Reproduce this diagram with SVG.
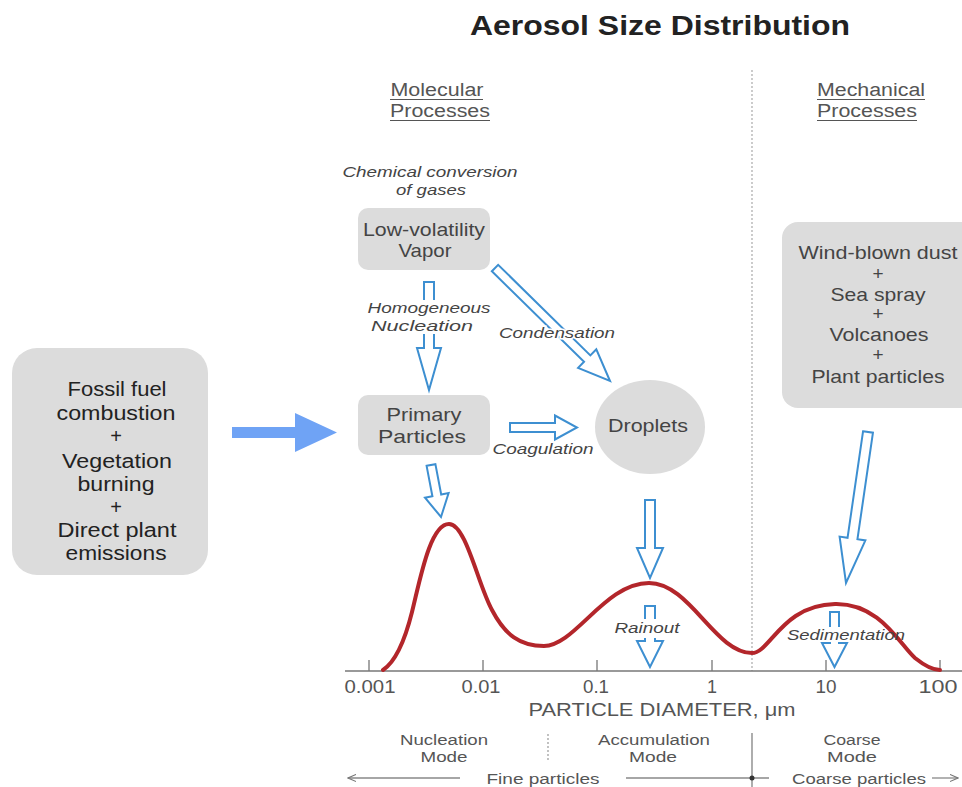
<svg xmlns="http://www.w3.org/2000/svg" width="962" height="787" viewBox="0 0 962 787">
<style>
text{font-family:"Liberation Sans",Arial,sans-serif;fill:#444;text-anchor:middle}
.title{font-size:27px;font-weight:bold;fill:#222}
.hd{font-size:18px;fill:#555}
.box{fill:#dcdcdc}
.bt{font-size:19px;fill:#444}
.lt{font-size:20px;fill:#222}
.it{font-size:15px;font-style:italic;fill:#444}
.ax{font-size:18px;fill:#555}
.md{font-size:15.5px;fill:#555}
.ha{fill:none;stroke:#3d8fd1;stroke-width:2;stroke-linejoin:miter}
.ul{stroke:#555;stroke-width:1.2}
.gl{stroke:#888;stroke-width:1.3;fill:none}
</style>
<defs>
<marker id="ah" viewBox="0 0 10 10" refX="9" refY="5" markerWidth="9" markerHeight="9" orient="auto-start-reverse" markerUnits="userSpaceOnUse"><path d="M0,1 L9,5 L0,9" fill="none" stroke="#777" stroke-width="1.2"/></marker>
</defs>
<rect width="962" height="787" fill="#fff"/>
<text class="title" x="660" y="35" textLength="380" lengthAdjust="spacingAndGlyphs">Aerosol Size Distribution</text>

<g id="headings">
<text class="hd" x="437" y="96" textLength="93" lengthAdjust="spacingAndGlyphs">Molecular</text>
<text class="hd" x="440" y="117" textLength="100" lengthAdjust="spacingAndGlyphs">Processes</text>
<line class="ul" x1="390" y1="99.5" x2="483" y2="99.5"/>
<line class="ul" x1="390" y1="120.5" x2="490" y2="120.5"/>
<text class="hd" x="871" y="96" textLength="108" lengthAdjust="spacingAndGlyphs">Mechanical</text>
<text class="hd" x="867" y="117" textLength="100" lengthAdjust="spacingAndGlyphs">Processes</text>
<line class="ul" x1="817" y1="99.5" x2="925" y2="99.5"/>
<line class="ul" x1="817" y1="120.5" x2="917" y2="120.5"/>
</g>

<line x1="752" y1="70" x2="752" y2="671" stroke="#aaa" stroke-width="1.2" stroke-dasharray="2,2"/>

<g id="chem-label">
<text class="it" x="430" y="177" textLength="175" lengthAdjust="spacingAndGlyphs">Chemical conversion</text>
<text class="it" x="431" y="195" textLength="70" lengthAdjust="spacingAndGlyphs">of gases</text>
</g>

<g id="sources">
<rect class="box" x="12" y="348" width="196" height="227" rx="25"/>
<text class="lt" x="117" y="396" textLength="99" lengthAdjust="spacingAndGlyphs">Fossil fuel</text>
<text class="lt" x="116" y="420" textLength="119" lengthAdjust="spacingAndGlyphs">combustion</text>
<text class="lt" x="116" y="443">+</text>
<text class="lt" x="117" y="468" textLength="110" lengthAdjust="spacingAndGlyphs">Vegetation</text>
<text class="lt" x="116" y="491" textLength="77" lengthAdjust="spacingAndGlyphs">burning</text>
<text class="lt" x="116" y="514">+</text>
<text class="lt" x="117" y="537" textLength="119" lengthAdjust="spacingAndGlyphs">Direct plant</text>
<text class="lt" x="116" y="560" textLength="101" lengthAdjust="spacingAndGlyphs">emissions</text>
</g>

<g id="vapor">
<rect class="box" x="358" y="208" width="132" height="62" rx="10"/>
<text class="bt" x="424" y="236" textLength="122" lengthAdjust="spacingAndGlyphs">Low-volatility</text>
<text class="bt" x="425" y="257" textLength="53" lengthAdjust="spacingAndGlyphs">Vapor</text>
</g>

<g id="primary">
<rect class="box" x="358" y="395" width="132" height="60" rx="10"/>
<text class="bt" x="424" y="421" textLength="75" lengthAdjust="spacingAndGlyphs">Primary</text>
<text class="bt" x="422" y="443" textLength="88" lengthAdjust="spacingAndGlyphs">Particles</text>
</g>

<g id="droplets">
<ellipse cx="650" cy="427" rx="55" ry="47" fill="#dcdcdc"/>
<text class="bt" x="648" y="432" textLength="80" lengthAdjust="spacingAndGlyphs">Droplets</text>
</g>

<g id="mechanical">
<rect class="box" x="782" y="222" width="200" height="186" rx="16"/>
<text class="bt" x="878" y="259" textLength="159" lengthAdjust="spacingAndGlyphs">Wind-blown dust</text>
<text class="bt" x="878" y="280">+</text>
<text class="bt" x="878" y="301" textLength="95" lengthAdjust="spacingAndGlyphs">Sea spray</text>
<text class="bt" x="878" y="320">+</text>
<text class="bt" x="879" y="341" textLength="99" lengthAdjust="spacingAndGlyphs">Volcanoes</text>
<text class="bt" x="878" y="361">+</text>
<text class="bt" x="878" y="383" textLength="133" lengthAdjust="spacingAndGlyphs">Plant particles</text>
</g>

<g id="connectors">
<polygon points="232,427 295,427 295,413 337,432.5 295,452 295,438 232,438" fill="#6fa3f5"/>
<polygon class="ha" points="424,282 434,282 434,348 441,348 429,390 417,348 424,348"/>
<polygon class="ha" points="491.85,271.2 498.15,264.8 590.35,355.4 596.3,349.3 610,381 578.1,367.9 584.05,361.8"/>
<polygon class="ha" points="510,423 555,423 555,415.5 577,427.5 555,439.5 555,432 510,432"/>
<polygon class="ha" points="426.6,465.85 435.4,464.15 441.2,494.55 448.6,493.1 441,517 425,497.7 432.4,496.25"/>
<polygon class="ha" points="645,500 655,500 655,548 663,548 650,578 637,548 645,548"/>
<polygon class="ha" points="863.05,431.28 872.95,432.72 857.45,539.2 865.4,540.4 846,583 839.6,536.6 847.55,537.8"/>
<polygon class="ha" points="645,606 655,606 655,641 663,641 650,667 637,641 645,641"/>
<polygon class="ha" points="830,612 839,612 839,643 847,643 834.5,667 822,643 830,643"/>
<rect x="420" y="300" width="18" height="34" fill="#fff"/>
<rect x="642" y="619" width="16" height="19" fill="#fff"/>
<rect x="827" y="627" width="15" height="15" fill="#fff"/>
</g>

<g id="process-labels">
<text class="it" x="429" y="313" textLength="123" lengthAdjust="spacingAndGlyphs">Homogeneous</text>
<text class="it" x="422" y="331" textLength="102" lengthAdjust="spacingAndGlyphs">Nucleation</text>
<text class="it" x="557" y="338" textLength="116" lengthAdjust="spacingAndGlyphs" stroke="#fff" stroke-width="3" paint-order="stroke">Condensation</text>
<text class="it" x="543" y="454" textLength="101" lengthAdjust="spacingAndGlyphs">Coagulation</text>
</g>

<g id="chart">
<line x1="345" y1="671" x2="962" y2="671" stroke="#777" stroke-width="1.5"/>
<path d="M369,660V671M483,660V671M597,660V671M712,660V671M826,660V671M940,660V671" stroke="#777" stroke-width="1.3"/>
<path d="M383,670 C395,662 405,640 412,612 C420,580 430,524 449,524 C466,524 478,585 492,610 C505,635 520,646 544,646 C575,646 605,583 649,583 C690,583 715,653 752,653 C770,653 782,605 835,604 C880,603 900,645 915,658 C925,666 932,670 940,670" fill="none" stroke="#b3262b" stroke-width="4" stroke-linecap="round"/>
<text class="it" x="647" y="633" textLength="65" lengthAdjust="spacingAndGlyphs">Rainout</text>
<text class="it" x="846" y="640" textLength="118" lengthAdjust="spacingAndGlyphs">Sedimentation</text>
<text class="ax" x="370" y="693" textLength="51" lengthAdjust="spacingAndGlyphs">0.001</text>
<text class="ax" x="481" y="693" textLength="39" lengthAdjust="spacingAndGlyphs">0.01</text>
<text class="ax" x="596" y="693" textLength="26" lengthAdjust="spacingAndGlyphs">0.1</text>
<text class="ax" x="712" y="693">1</text>
<text class="ax" x="826" y="693" textLength="21" lengthAdjust="spacingAndGlyphs">10</text>
<text class="ax" x="938" y="693" textLength="39" lengthAdjust="spacingAndGlyphs">100</text>
<text class="ax" x="662" y="716" textLength="267" lengthAdjust="spacingAndGlyphs">PARTICLE DIAMETER, μm</text>
</g>

<g id="modes">
<text class="md" x="444" y="745" textLength="88" lengthAdjust="spacingAndGlyphs">Nucleation</text>
<text class="md" x="444" y="762" textLength="47" lengthAdjust="spacingAndGlyphs">Mode</text>
<line x1="548" y1="734" x2="548" y2="762" stroke="#999" stroke-width="1.2" stroke-dasharray="2,2"/>
<text class="md" x="654" y="745" textLength="112" lengthAdjust="spacingAndGlyphs">Accumulation</text>
<text class="md" x="653" y="762" textLength="48" lengthAdjust="spacingAndGlyphs">Mode</text>
<line x1="752" y1="733" x2="752" y2="787" stroke="#777" stroke-width="1.2"/>
<text class="md" x="852" y="745" textLength="57" lengthAdjust="spacingAndGlyphs">Coarse</text>
<text class="md" x="852" y="762" textLength="50" lengthAdjust="spacingAndGlyphs">Mode</text>
<line class="gl" x1="460" y1="778" x2="348" y2="778" marker-end="url(#ah)"/>
<text class="md" x="543" y="784" textLength="113" lengthAdjust="spacingAndGlyphs">Fine particles</text>
<line class="gl" x1="626" y1="778" x2="769" y2="778"/>
<circle cx="752" cy="778" r="2.5" fill="#333"/>
<text class="md" x="859" y="784" textLength="134" lengthAdjust="spacingAndGlyphs">Coarse particles</text>
<line class="gl" x1="932" y1="778" x2="958" y2="778" marker-end="url(#ah)"/>
</g>
</svg>
